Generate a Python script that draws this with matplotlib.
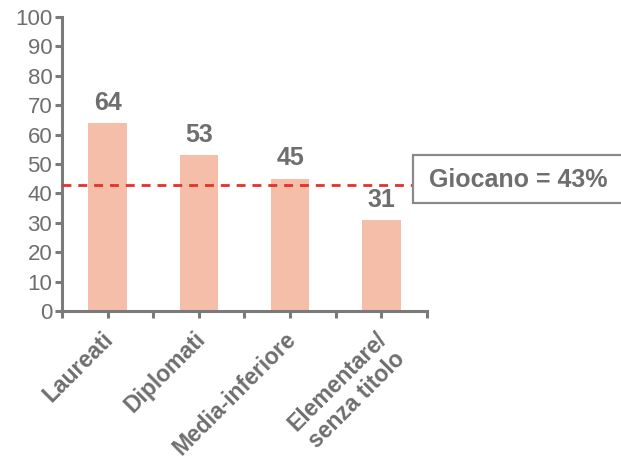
import numpy as np
import matplotlib.pyplot as plt
from matplotlib.patches import Rectangle

plt.rcParams['font.family'] = ['Liberation Sans', 'DejaVu Sans']

# Quota di chi gioca per titolo di studio (%)
categorie = ["Laureati", "Diplomati", "Media-inferiore", "Elementare/\nsenza titolo"]
valori = [64, 53, 45, 31]
media_giocano = 43
yticks = list(range(0, 101, 10))

GRIGIO = "#7a7a7a"
TESTO = "#6e6e6e"
BARRA = "#f5bea8"
ROSSO = "#e6302a"

fig = plt.figure(figsize=(6.21, 4.59), dpi=100)
ax = fig.add_axes([62 / 621, 1 - 311 / 459, 365 / 621, 294 / 459])

x = np.arange(len(categorie)) + 0.5
ax.bar(x, valori, width=0.42, color=BARRA, zorder=2)

for xi, v in zip(x, valori):
    ax.annotate(str(v), (xi, v), xytext=(0, 6), textcoords="offset points",
                ha="center", va="bottom", fontsize=18, fontweight="bold",
                color=TESTO)

# linea della media generale
ax.axhline(media_giocano, xmin=0, xmax=0.96, color=ROSSO, lw=2,
           dashes=(3.2, 2.5), zorder=3)

ax.set_xlim(0, len(categorie))
ax.set_ylim(0, 100)
ax.set_yticks(yticks)
ax.set_yticklabels([str(t) for t in yticks], fontsize=16, color=TESTO)

ax.set_xticks(x)
ax.set_xticks(np.arange(len(categorie) + 1), minor=True)
ax.set_xticklabels([])

# etichette delle categorie, ruotate a 45 gradi
for xi, cat in zip(x, categorie):
    ax.annotate(cat, (xi, 0), xycoords=("data", "axes fraction"),
                xytext=(-4, -12), textcoords="offset points",
                rotation=45, ha="right", va="top", rotation_mode="anchor",
                multialignment="center", fontsize=16.5, fontweight="bold",
                color=TESTO, annotation_clip=False)

for side in ("top", "right"):
    ax.spines[side].set_visible(False)
for side in ("left", "bottom"):
    ax.spines[side].set_color(GRIGIO)
    ax.spines[side].set_linewidth(2.2)

ax.tick_params(axis="both", which="both", color=GRIGIO, width=2.2, length=5)
ax.tick_params(axis="y", pad=2)

# riquadro con il totale
box = Rectangle((413 / 621, 1 - 203 / 459), 0.4, 48 / 459,
                transform=fig.transFigure, facecolor="white",
                edgecolor="#8a8a8a", lw=1.6, clip_on=False)
fig.patches.append(box)
fig.text(429 / 621, 1 - 180 / 459, f"Giocano = {media_giocano}%",
         ha="left", va="center", fontsize=18, fontweight="bold", color=TESTO)

fig.savefig("out.png", dpi=100)
